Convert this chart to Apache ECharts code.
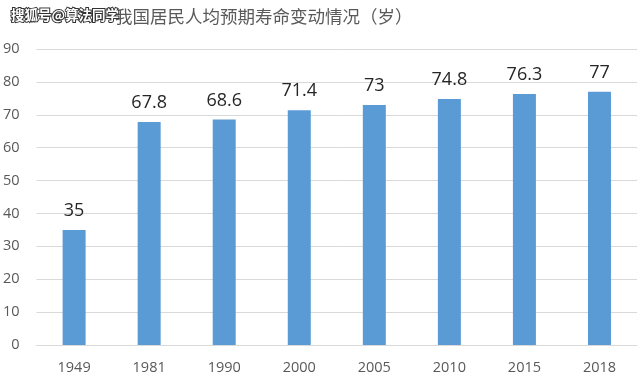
<!DOCTYPE html>
<html><head><meta charset="utf-8">
<script src="https://cdn.jsdelivr.net/npm/echarts@6/dist/echarts.min.js"></script>
<style>html,body{margin:0;padding:0;background:#fff}#c{width:640px;height:379px}</style>
</head><body><div id="c"></div>
<script>
const categories = ['1949','1981','1990','2000','2005','2010','2015','2018'];
const values = [35, 67.8, 68.6, 71.4, 73, 74.8, 76.3, 77];
const yTicks = [0, 10, 20, 30, 40, 50, 60, 70, 80, 90];
const titleText = '我国居民人均预期寿命变动情况（岁）';
const watermark = '搜狐号@算法同学';

const chart = echarts.init(document.getElementById('c'));
chart.setOption({
  animation: false,
  backgroundColor: '#fff',
  title: {
    text: titleText, left: 110, top: 3,
    textStyle: {fontFamily: 'Noto Sans CJK SC', fontSize: 17.5, fontWeight: 'normal', color: '#595959'}
  },
  graphic: [{
    type: 'text', left: 10, top: 7, z: 100,
    style: {text: watermark, fontFamily: 'Noto Sans CJK SC', fontSize: 13.5, fontWeight: 'bold',
      fill: '#fff', stroke: '#333', lineWidth: 2}
  }],
  grid: {left: 35, right: 3, top: 49, bottom: 34},
  xAxis: {
    type: 'category', data: categories,
    axisLine: {show: true, lineStyle: {color: '#D9D9D9', width: 1}},
    axisTick: {show: false},
    axisLabel: {color: '#595959', fontSize: 14.5, fontFamily: 'Open Sans', margin: 15}
  },
  yAxis: {
    type: 'value', min: yTicks[0], max: yTicks[yTicks.length-1], interval: 10,
    axisLine: {show: false}, axisTick: {show: false},
    splitLine: {lineStyle: {color: '#D9D9D9', width: 1}},
    axisLabel: {color: '#595959', fontSize: 14.5, fontFamily: 'Open Sans', margin: 17}
  },
  series: [{
    type: 'bar', data: values, barWidth: 23,
    itemStyle: {color: '#5B9BD5'},
    label: {show: true, position: 'top', distance: 10, color: '#262626', fontSize: 18, fontFamily: 'Open Sans'}
  }]
});
</script></body></html>
